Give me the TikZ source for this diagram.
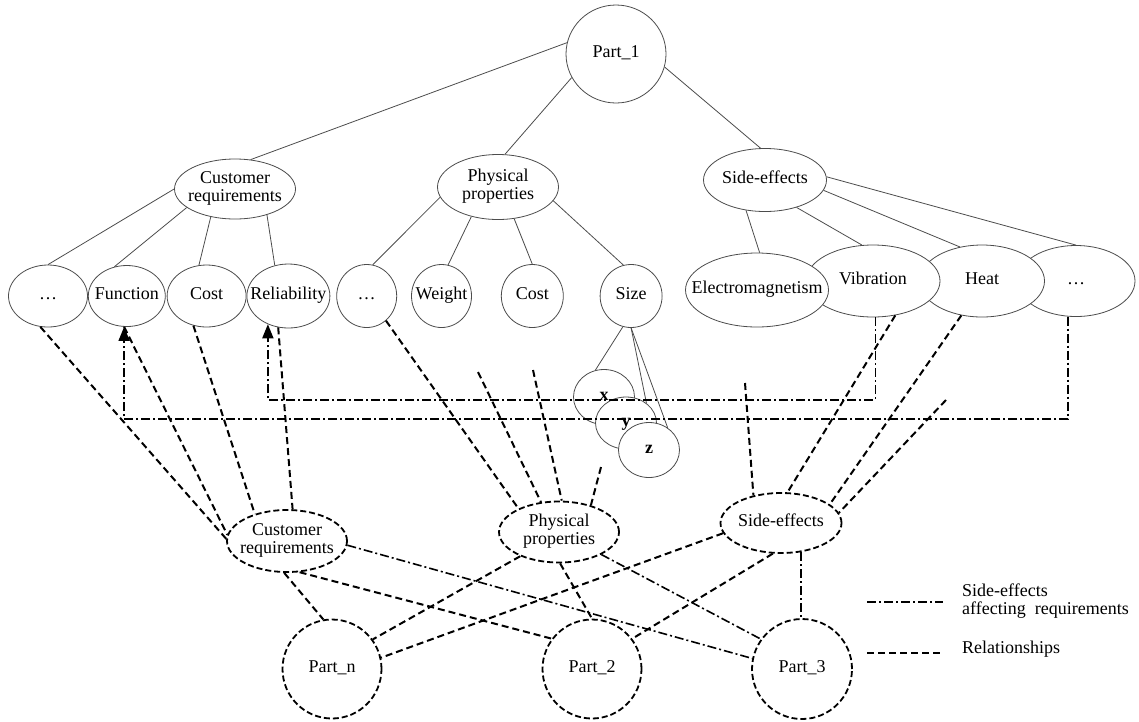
\documentclass[tikz,border=0pt]{standalone}
\usepackage{fontspec}
\setmainfont{Liberation Serif}
\usetikzlibrary{shapes.geometric,positioning,arrows.meta}
\newcommand{\nodetext}[1]{\makebox[0pt]{\begin{tabular}{@{}c@{}}#1\end{tabular}}}

\begin{document}
\begin{tikzpicture}[
    x=1pt, y=-1pt,
    every node/.style={font=\fontsize{18}{18}\selectfont},
    attr/.style={ellipse,draw=black!70,line width=0.8pt,fill=white,inner sep=0pt},
    grp/.style={ellipse,draw=black,line width=1.8pt,dash pattern=on 6pt off 3pt,fill=white,inner sep=0pt},
    tree/.style={draw=black!70,line width=0.8pt},
    relation/.style={line width=2pt,dash pattern=on 7pt off 4pt},
    sideeff/.style={line width=1.6pt,dash pattern=on 9pt off 3pt on 2pt off 3pt},
    legendtext/.style={anchor=west,align=left,inner sep=0pt}
]
  \useasboundingbox (0,0) rectangle (1139,721);

  % part 1 and its three groups
  \node[attr,minimum width=100pt,minimum height=98pt] (p1) at (616,54) {\nodetext{Part\_1}};
  \node[attr,minimum width=121pt,minimum height=60pt] (cr) at (235,189) {\nodetext{Customer\\requirements}};
  \node[attr,minimum width=121pt,minimum height=65pt] (pp) at (498,187) {\nodetext{Physical\\properties}};
  \node[attr,minimum width=123pt,minimum height=63pt] (se) at (765,180) {\nodetext{Side-effects}};

  % attributes
  \node[attr,minimum width=79pt,minimum height=62pt] (dotsa) at (48,296) {\nodetext{\dots}};
  \node[attr,minimum width=77pt,minimum height=61pt,right=0pt of dotsa] (func) {\nodetext{Function}};
  \node[attr,minimum width=79pt,minimum height=62pt,right=1pt of func] (costa) {\nodetext{Cost}};
  \node[attr,minimum width=83pt,minimum height=64pt,right=0pt of costa] (rel) {\nodetext{Reliability}};
  \node[attr,minimum width=60pt,minimum height=63pt,right=6pt of rel] (dotsb) {\nodetext{\dots}};
  \node[attr,minimum width=60pt,minimum height=63pt,right=14pt of dotsb] (weight) {\nodetext{Weight}};
  \node[attr,minimum width=62pt,minimum height=63pt,right=29pt of weight] (costb) {\nodetext{Cost}};
  \node[attr,minimum width=62pt,minimum height=63pt,right=36pt of costb] (size) {\nodetext{Size}};

  \node[attr,minimum width=61pt,minimum height=55pt] (xn) at (604,397) {\nodetext{\textbf{x}}};
  \node[attr,minimum width=61pt,minimum height=52pt] (yn) at (626,423) {\nodetext{\textbf{y}}};
  \node[attr,minimum width=61pt,minimum height=55pt] (zn) at (649,450) {\nodetext{\textbf{z}}};

  \node[attr,minimum width=118pt,minimum height=71pt] (dotsc) at (1076,281) {\nodetext{\dots}};
  \node[attr,minimum width=125pt,minimum height=72pt] (heat) at (982,281) {\nodetext{Heat}};
  \node[attr,minimum width=134pt,minimum height=72pt] (vib) at (873,281) {\nodetext{Vibration}};
  \node[attr,minimum width=143pt,minimum height=74pt] (elm) at (757,290) {\nodetext{Electromagnetism}};

  % lower groups and parts
  \node[grp,minimum width=120pt,minimum height=62pt] (cr2) at (287,541) {\nodetext{Customer\\requirements}};
  \node[grp,minimum width=120pt,minimum height=61pt] (pp2) at (559,532) {\nodetext{Physical\\properties}};
  \node[grp,minimum width=121pt,minimum height=60pt] (se2) at (781,523) {\nodetext{Side-effects}};

  \node[grp,minimum size=99pt] (partn) at (332,669) {\nodetext{Part\_n}};
  \node[grp,minimum size=99pt] (part2) at (592,669) {\nodetext{Part\_2}};
  \node[grp,minimum size=100pt] (part3) at (802,669) {\nodetext{Part\_3}};

  \coordinate (wa) at (478,372);
  \coordinate (wb) at (533,370);
  \coordinate (wc) at (601,467);
  \coordinate (wd) at (745,383);
  \coordinate (we) at (946,400);
  \coordinate (sidea) at (0,400);
  \coordinate (sideb) at (0,419);

  % tree
  \draw[tree] (p1.167) -- (cr.62);
  \draw[tree] (p1.208) -- (pp.78);
  \draw[tree] (p1.-15) -- (se.98);
  \draw[tree] (cr.180) -- (dotsa.north);
  \draw[tree] (cr.201) -- (func.113);
  \draw[tree] (cr.229) -- (costa.104);
  \draw[tree] (cr.-39) -- (rel.114);
  \draw[tree] (pp.190) -- (dotsb.79);
  \draw[tree] (pp.228) -- (weight.78);
  \draw[tree] (pp.-63) -- (costb.north);
  \draw[tree] (pp.-14) -- (size.104);
  \draw[tree] (se.238) -- (elm.86);
  \draw[tree] (se.-41) -- (vib.107);
  \draw[tree] (se.-10) -- (heat.123);
  \draw[tree] (se.3) -- (dotsc.north);
  \draw[tree] (size.255) -- (xn.108);
  \draw[tree] (size.south) -- (yn.44);
  \draw[tree] (size.south) -- (zn.50);

  % relationships
  \draw[relation] (dotsa.256) -- (cr2.178);
  \draw[relation] (func.265) -- (cr2.174);
  \draw[relation] (costa.246) -- (cr2.140);
  \draw[relation] (rel.252) -- (cr2.80);
  \draw[relation] (dotsb.-52) -- (pp2.150);
  \draw[relation] (wa) -- (pp2.121);
  \draw[relation] (wb) -- (pp2.85);
  \draw[relation] (wc) -- (pp2.40);
  \draw[relation] (wd) -- (se2.135);
  \draw[relation] (vib.-57) -- (se2.78);
  \draw[relation] (heat.239) -- (se2.21);
  \draw[relation] (we) -- (se2.10);
  \draw[relation] (cr2.265) -- (partn.100);
  \draw[relation] (cr2.-68) -- (part2.143);
  \draw[relation] (pp2.212) -- (partn.36);
  \draw[relation] (pp2.272) -- (part2.north);
  \draw[relation] (se2.190) -- (partn.13);
  \draw[relation] (se2.255) -- (part2.37);

  % side-effects affecting requirements
  \draw[sideeff] (cr2.-4) -- (part3.168);
  \draw[sideeff] (pp2.-28) -- (part3.144);
  \draw[sideeff] (se2.-56) -- (se2.-56 |- part3.north);
  \draw[sideeff,-{Triangle[length=14pt,width=11pt]}] (vib.274) -- (vib.274 |- sidea) -| (rel.234);
  \draw[sideeff,-{Triangle[length=14pt,width=11pt]}] (dotsc.257) -- (dotsc.257 |- sideb) -| (func.265);

  % legend
  \coordinate (lga) at (867,602);
  \coordinate (lgb) at (943,602);
  \coordinate (lgc) at (867,653);
  \coordinate (lgd) at (943,653);
  \draw[sideeff] (lga) -- (lgb);
  \draw[relation] (lgc) -- (lgd);
  \node[legendtext] (lgside) at (962,601) {Side-effects\\affecting\ \ requirements};
  \node[legendtext] (lgrel) at (962,649) {Relationships};
\end{tikzpicture}
\end{document}
